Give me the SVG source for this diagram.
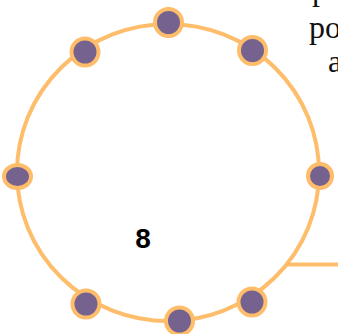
<svg xmlns="http://www.w3.org/2000/svg" width="338" height="334" viewBox="0 0 338 334">
<style>
.ring{fill:none;stroke:#fdbd6a;stroke-width:4}
.dot{fill:#75628f;stroke:#fdbd6a;stroke-width:4}
.conn{fill:none;stroke:#fdbd6a;stroke-width:4}
.lbl{font-family:"Liberation Sans",Arial,sans-serif;font-weight:bold;font-size:28px;fill:#000}
.txt{font-family:"Liberation Serif","Times New Roman",serif;font-size:32px;fill:#111}
</style>
<rect width="338" height="334" fill="#fff"/>
<g id="connectors">
<line class="conn" x1="286" y1="264.5" x2="338" y2="264.5"/>
</g>
<g id="ring">
<ellipse class="ring" cx="168" cy="172.5" rx="151" ry="148.5"/>
<text class="lbl" x="143" y="248" text-anchor="middle">8</text>
</g>
<g id="n1"><circle class="dot" cx="168.5" cy="22.5" r="13.5"/></g>
<g id="n2"><circle class="dot" cx="252.5" cy="50.5" r="13.5"/></g>
<g id="n3"><ellipse class="dot" cx="320" cy="176" rx="12" ry="12"/></g>
<g id="n4"><circle class="dot" cx="252" cy="302" r="13.5"/></g>
<g id="n5"><circle class="dot" cx="179.5" cy="321" r="13.5"/></g>
<g id="n6"><circle class="dot" cx="86" cy="304" r="13.5"/></g>
<g id="n7"><ellipse class="dot" cx="17.5" cy="176.5" rx="13.5" ry="11.5"/></g>
<g id="n8"><circle class="dot" cx="85" cy="52" r="13.5"/></g>
<g id="caption">
<text class="txt" x="312" y="0">p</text>
<text class="txt" x="309" y="38">po</text>
<text class="txt" x="328" y="72">a</text>
</g>
</svg>
